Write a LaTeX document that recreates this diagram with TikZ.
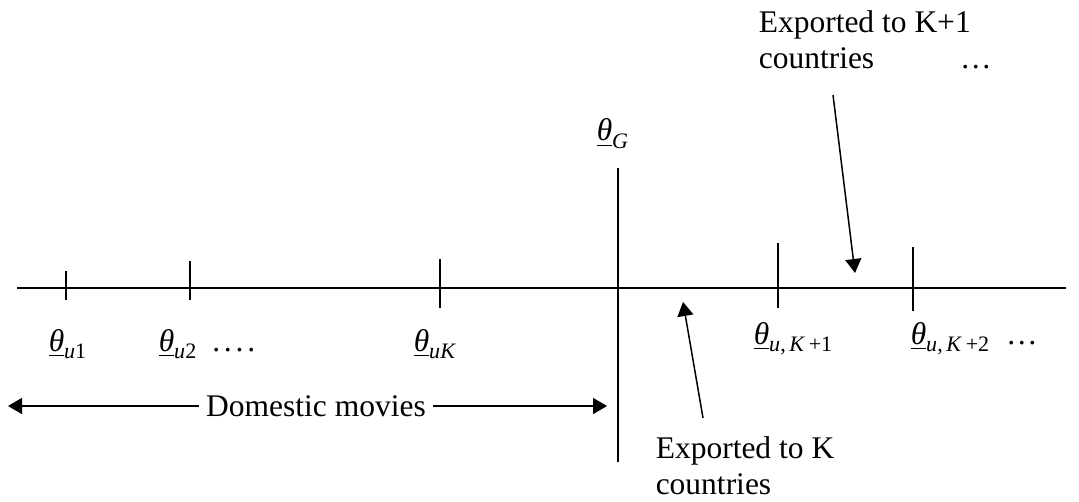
\documentclass[tikz,border=0pt]{standalone}
\usepackage{fontspec}
\setmainfont{Liberation Serif}
\usepackage{amsmath}
\usetikzlibrary{arrows.meta,positioning}
% underlined theta with a subscript
\newcommand{\thlow}[1]{$\underline{\text{\itshape θ}}_{\text{#1}}$}

\begin{document}
\begin{tikzpicture}[x=0.5pt,y=-0.5pt,
      every node/.style={font=\fontsize{15.75}{18}\selectfont},
      lab/.style={anchor=base west,inner sep=0pt},
      txt/.style={align=left,anchor=north west,inner sep=0pt},
      >={Triangle[length=7pt,width=8pt]},line width=0.75pt]
    \useasboundingbox (0,0) rectangle (1079,502);
    % the line and its ticks
    \coordinate (axl) at (17,288);
    \coordinate (axr) at (1066,288);
    \draw (axl)--(axr);
    \foreach \x/\a/\b in {66/271/300,190/261/300,440/259/308,778/243/308,913/247/311}
      \draw (\x,\a)--(\x,\b);
    \coordinate (gtop) at (618,168);
    \coordinate (gbot) at (618,462);
    \draw (gtop)--(gbot);
    % thresholds
    \node[lab] (thG) at (596,141) {$\underline{\text{\itshape θ}}_{\text{\itshape G}}$};
    \node[lab] (u1) at (48,351) {\thlow{\textit{u}1}};
    \node[lab] (u2) at (158,351) {\thlow{\textit{u}2}\hspace{7.5pt}.\kern1.9pt.\kern1.9pt.\kern1.9pt.};
    \node[lab] (uK) at (413,351) {\thlow{\textit{uK}}};
    \node[lab] (uK1) at (753,344) {\thlow{\textit{u},\,\textit{K}\,+1}};
    \node[lab] (uK2) at (910,344) {\thlow{\textit{u},\,\textit{K}\,+2}\hspace{8pt}…};
    % domestic range
    \node (dom) at (316,406) {Domestic movies};
    \coordinate (dl) at (8,406);
    \coordinate (dr) at (607,406);
    \draw[->] (dom.west)--(dl);
    \draw[->] (dom.east)--(dr);
    % export labels
    \node[txt] (expK) at (655,436) {Exported to K\\countries};
    \node[txt] (expK1) at (758,10) {Exported to K+1\\countries\hspace{43pt}…};
    \coordinate (ktail) at (703,418);
    \coordinate (ktip) at (683,302);
    \coordinate (k1tail) at (833,95);
    \coordinate (k1tip) at (855,273);
    \draw[->] (ktail)--(ktip);
    \draw[->] (k1tail)--(k1tip);
  \end{tikzpicture}
\end{document}
